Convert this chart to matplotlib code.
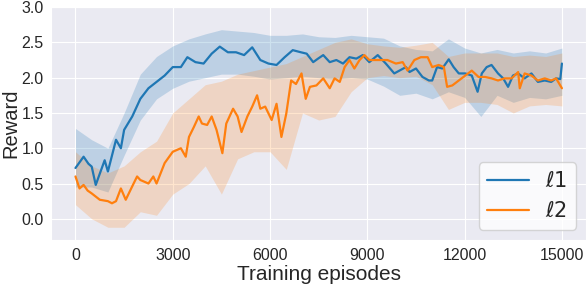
import numpy as np
import matplotlib
matplotlib.use('Agg')
import matplotlib.pyplot as plt
import seaborn as sns

sns.set_style('darkgrid')
plt.rcParams['font.family'] = ['Liberation Sans', 'DejaVu Sans']
plt.rcParams['mathtext.fontset'] = 'dejavusans'

# l1 mean curve
l1_x = [0, 125, 250, 400, 500, 625, 750, 900, 1000, 1250, 1400, 1500, 1750, 2000, 2250,
        2500, 2750, 3000, 3250, 3450, 3700, 3950, 4200, 4450, 4700, 4950, 5200, 5450,
        5700, 5950, 6200, 6450, 6700, 6950, 7130, 7330, 7480, 7640, 7840, 8045, 8250,
        8450, 8660, 8860, 9060, 9320, 9570, 9830, 9990, 10190, 10300, 10500, 10700,
        10900, 11000, 11150, 11310, 11510, 11660, 11820, 12020, 12220, 12400, 12530,
        12680, 12830, 13030, 13190, 13340, 13490, 13650, 13850, 14060, 14260, 14470,
        14670, 14820, 14950, 15000]
l1_y = [0.72, 0.80, 0.88, 0.78, 0.74, 0.48, 0.64, 0.83, 0.67, 1.12, 1.00, 1.26, 1.45, 1.70, 1.85,
        1.94, 2.03, 2.15, 2.15, 2.29, 2.22, 2.20, 2.34, 2.44, 2.36, 2.36, 2.32, 2.43,
        2.25, 2.20, 2.18, 2.29, 2.39, 2.36, 2.34, 2.22, 2.27, 2.32, 2.22, 2.25, 2.20,
        2.29, 2.27, 2.32, 2.22, 2.32, 2.20, 2.06, 2.10, 2.15, 2.08, 2.13, 2.01,
        1.96, 1.96, 2.15, 2.13, 2.26, 2.15, 2.06, 2.06, 2.03, 1.80, 2.06,
        2.15, 2.18, 2.06, 1.99, 1.87, 2.03, 2.06, 1.99, 2.06, 1.94, 1.96,
        1.94, 1.99, 1.98, 2.20]

# l2 mean curve
l2_x = [0, 125, 250, 375, 500, 750, 1000, 1125, 1250, 1400, 1550, 1750, 1900, 2000, 2250,
        2400, 2500, 2750, 3000, 3250, 3400, 3500, 3650, 3800, 3900, 4060, 4200, 4350,
        4530, 4650, 4860, 5000, 5120, 5300, 5450, 5600, 5700, 5850, 6050, 6200, 6350,
        6500, 6650, 6800, 6970, 7100, 7230, 7430, 7640, 7840, 7990, 8150, 8300, 8450,
        8600, 8760, 8910, 9060, 9370, 9620, 9880, 10090, 10240, 10450, 10650, 10860,
        11000, 11200, 11360, 11460, 11620, 11820, 12020, 12220, 12430, 12630, 12830,
        13030, 13230, 13450, 13650, 13700, 13850, 14060, 14260, 14470, 14670, 14820, 15000]
l2_y = [0.60, 0.43, 0.48, 0.40, 0.36, 0.27, 0.25, 0.22, 0.25, 0.43, 0.27, 0.46, 0.60, 0.55, 0.50,
        0.60, 0.50, 0.79, 0.95, 1.00, 0.88, 1.16, 1.30, 1.45, 1.35, 1.33, 1.45, 1.26,
        0.93, 1.35, 1.56, 1.45, 1.23, 1.45, 1.59, 1.75, 1.56, 1.59, 1.40, 1.63, 1.16,
        1.49, 1.96, 1.91, 2.06, 1.70, 1.87, 1.89, 1.99, 1.85, 1.99, 1.94, 2.15, 2.25,
        2.13, 2.25, 2.32, 2.25, 2.25, 2.25, 2.20, 2.22, 2.10, 2.25, 2.29, 2.29,
        2.15, 2.18, 2.15, 1.87, 1.89, 1.96, 2.03, 2.10, 2.01, 2.01, 1.99,
        1.96, 1.99, 1.99, 2.08, 1.85, 2.06, 2.03, 1.96, 1.99, 1.96, 1.99, 1.85]

# shaded bands
band_x = list(range(0, 15001, 500))
l1_low = [0.45, 0.45, 0.38, 0.90, 1.40, 1.70, 1.85, 1.95, 2.00, 2.05, 2.05, 2.02, 1.98, 2.00,
          2.02, 2.00, 1.98, 2.00, 1.98, 1.88, 1.75, 1.78, 1.70, 1.80, 1.72, 1.45, 1.75,
          1.65, 1.72, 1.70, 1.75]
l1_high = [1.28, 1.12, 1.00, 1.50, 2.05, 2.30, 2.45, 2.55, 2.62, 2.68, 2.66, 2.64, 2.60, 2.60,
           2.62, 2.58, 2.57, 2.60, 2.58, 2.56, 2.45, 2.40, 2.38, 2.55, 2.42, 2.35, 2.40,
           2.35, 2.38, 2.35, 2.42]
l2_low = [0.20, 0.00, -0.12, -0.12, 0.10, 0.05, 0.35, 0.50, 0.75, 0.35, 0.85, 0.95, 0.95, 0.70,
          1.50, 1.40, 1.45, 1.80, 2.00, 2.03, 2.00, 2.02, 1.90, 1.55, 1.65, 1.65, 1.62,
          1.50, 1.60, 1.62, 1.60]
l2_high = [0.95, 0.75, 0.65, 0.75, 0.95, 1.10, 1.50, 1.70, 1.90, 1.95, 2.05, 2.10, 2.15, 2.20,
           2.30, 2.40, 2.50, 2.55, 2.48, 2.45, 2.43, 2.46, 2.50, 2.30, 2.35, 2.35, 2.35,
           2.30, 2.32, 2.30, 2.35]

labels = [r'$\ell 1$', r'$\ell 2$']
colors = ['#1f77b4', '#ff7f0e']


def main():
    fig, ax = plt.subplots(figsize=(5.88, 2.84), dpi=100)
    fig.subplots_adjust(left=0.087, right=0.997, top=0.975, bottom=0.155)

    ax.fill_between(band_x, l1_low, l1_high, color=colors[0], alpha=0.22, linewidth=0)
    ax.fill_between(band_x, l2_low, l2_high, color=colors[1], alpha=0.2, linewidth=0)
    ax.plot(l1_x, l1_y, color=colors[0], linewidth=1.6, label=labels[0])
    ax.plot(l2_x, l2_y, color=colors[1], linewidth=1.6, label=labels[1])

    ax.set_xlim(-750, 15750)
    ax.set_ylim(-0.3, 3.0)
    ax.set_xticks([0, 3000, 6000, 9000, 12000, 15000])
    ax.set_yticks([0.0, 0.5, 1.0, 1.5, 2.0, 2.5, 3.0])
    ax.tick_params(labelsize=11.5, colors='.15', pad=2)
    ax.set_xlabel('Training episodes', fontsize=15, color='.15', labelpad=2)
    ax.set_ylabel('Reward', fontsize=14.5, color='.15', labelpad=1)

    ax.legend(loc='lower right', fontsize=15, frameon=True, facecolor='white',
              edgecolor='0.8', framealpha=0.8)

    fig.savefig('out.png', dpi=100)


if __name__ == '__main__':
    main()
